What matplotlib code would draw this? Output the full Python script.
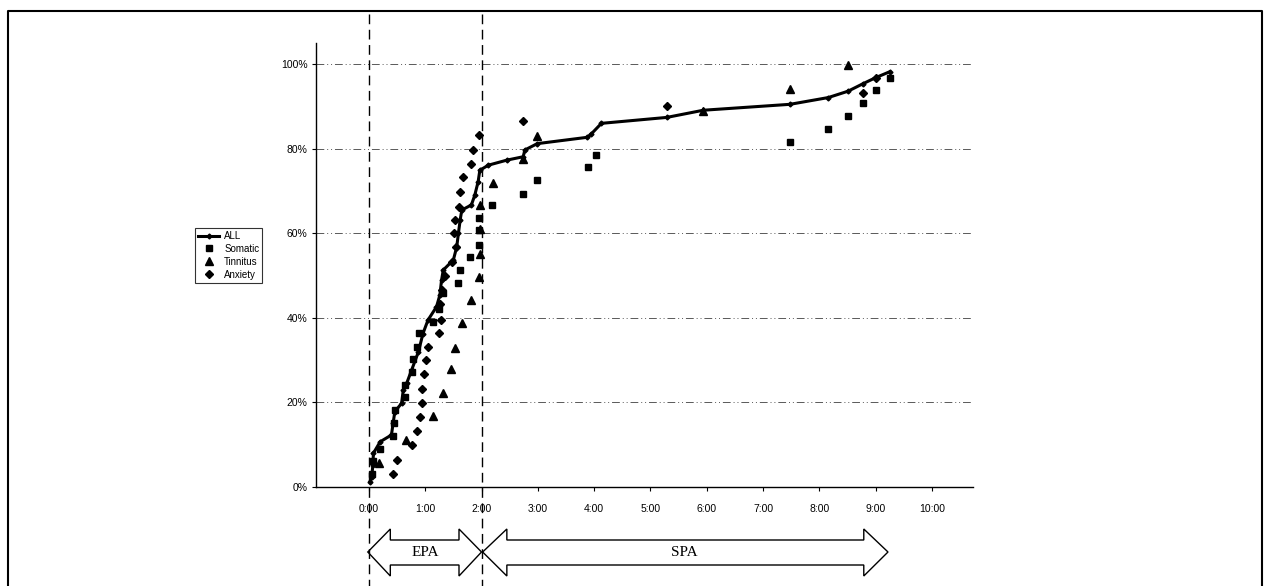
import matplotlib
matplotlib.use("Agg")
import matplotlib.pyplot as plt
from matplotlib.lines import Line2D
from matplotlib.patches import Polygon
from matplotlib import transforms

plt.rcParams['font.family'] = ['Liberation Sans', 'DejaVu Sans']

# time in hours, cumulative share of patients in %
all_t = [0.02, 0.05, 0.07, 0.08, 0.20, 0.40, 0.43, 0.46, 0.58, 0.61, 0.67, 0.76, 0.88, 0.96,
         1.05, 1.20, 1.26, 1.29, 1.32, 1.50, 1.56, 1.59, 1.62, 1.65, 1.82, 1.88, 1.94, 1.97,
         2.12, 2.45, 2.74, 2.77, 2.99, 3.88, 3.95, 4.13, 5.29, 5.94, 7.48, 8.16, 8.51, 8.78,
         9.00, 9.25]
all_p = [1.3, 2.4, 5.2, 8.0, 10.7, 12.3, 15.1, 17.8, 19.8, 22.9, 24.5, 27.7, 32.0, 36.3,
         39.5, 42.6, 45.4, 48.9, 51.3, 53.7, 56.8, 60.0, 63.1, 65.5, 66.7, 69.0, 72.2, 74.9,
         76.1, 77.3, 78.1, 79.7, 81.2, 82.7, 83.5, 86.0, 87.4, 89.1, 90.5, 92.1, 93.6, 95.4,
         96.8, 98.2]

somatic_t = [0.05, 0.07, 0.20, 0.43, 0.45, 0.47, 0.64, 0.64, 0.76, 0.79, 0.85, 0.89, 1.14,
             1.25, 1.32, 1.58, 1.62, 1.79, 1.96, 1.96, 1.96, 2.18, 2.74, 2.98, 3.90, 4.04,
             7.48, 8.16, 8.51, 8.78, 9.00, 9.25]
somatic_p = [3.0, 6.1, 9.1, 12.1, 15.2, 18.2, 21.2, 24.1, 27.3, 30.2, 33.0, 36.4, 39.1,
             42.2, 45.8, 48.2, 51.3, 54.4, 57.2, 60.8, 63.5, 66.7, 69.4, 72.7, 75.6, 78.6,
             81.6, 84.6, 87.7, 90.9, 93.9, 96.8]

tinnitus_t = [0.18, 0.66, 1.14, 1.32, 1.45, 1.53, 1.65, 1.81, 1.96, 1.97, 1.98, 1.98, 2.21,
              2.74, 2.98, 5.94, 7.48, 8.51]
tinnitus_p = [5.6, 11.1, 16.7, 22.2, 27.8, 32.8, 38.7, 44.2, 49.6, 55.2, 61.0, 66.6, 71.9,
              77.6, 83.0, 88.9, 94.2, 99.9]

anxiety_t = [0.43, 0.49, 0.76, 0.86, 0.91, 0.94, 0.94, 0.98, 1.01, 1.05, 1.25, 1.28, 1.27,
             1.29, 1.35, 1.48, 1.54, 1.52, 1.53, 1.60, 1.62, 1.67, 1.81, 1.85, 1.96, 2.73,
             5.29, 8.78, 9.00]
anxiety_p = [3.1, 6.5, 9.9, 13.3, 16.6, 19.8, 23.1, 26.7, 30.0, 33.0, 36.5, 39.5, 43.3,
             46.7, 49.9, 53.3, 56.7, 60.0, 63.1, 66.3, 69.8, 73.2, 76.5, 79.8, 83.2, 86.6,
             90.0, 93.2, 96.7]

hours = list(range(11))
pct_ticks = [0, 20, 40, 60, 80, 100]

W, H = 1269, 586
fig = plt.figure(figsize=(W / 100, H / 100), dpi=100)
ax = fig.add_axes([316 / W, 1 - 487 / H, (973 - 316) / W, (487 - 43) / H])

ax.plot(somatic_t, somatic_p, 's', color='black', ms=5, label='Somatic', zorder=3)
ax.plot(tinnitus_t, tinnitus_p, '^', color='black', ms=5.5, label='Tinnitus', zorder=3)
ax.plot(anxiety_t, anxiety_p, 'D', color='black', ms=4.1, label='Anxiety', zorder=3)
ax.plot(all_t, all_p, '-D', color='black', lw=2.2, ms=2.5, label='ALL', zorder=4)

ax.set_xlim(-0.94, 10.73)
ax.set_ylim(0, 105)
ax.set_xticks(hours)
ax.set_xticklabels([f"{h}:00" for h in hours])
ax.set_yticks(pct_ticks)
ax.set_yticklabels([f"{p}%" for p in pct_ticks])
ax.tick_params(axis='both', labelsize=7.5, length=3, width=0.8, color='black')
ax.tick_params(axis='x', pad=9)
ax.tick_params(axis='y', pad=3)

for s in ['top', 'right']:
    ax.spines[s].set_visible(False)
for s in ['left', 'bottom']:
    ax.spines[s].set_linewidth(1.0)

ax.yaxis.grid(True, color='0.35', lw=0.7, linestyle=(0, (8, 3, 1, 3, 1, 3)))
ax.set_axisbelow(True)

# legend box on the left
h, l = ax.get_legend_handles_labels()
order = [3, 0, 1, 2]
leg = fig.legend([h[i] for i in order], [l[i] for i in order], loc='upper left',
                 bbox_to_anchor=(195 / W, 1 - 228 / H), fontsize=7, frameon=True,
                 fancybox=False, edgecolor='black', handlelength=2.2, borderpad=0.3,
                 labelspacing=0.3, handletextpad=0.5, borderaxespad=0)
leg.get_frame().set_linewidth(0.8)

# x in hours, y in figure fraction
trans = transforms.blended_transform_factory(ax.transData, fig.transFigure)

# dashed phase borders at 0:00 and 2:00
for xv in [0, 2]:
    fig.add_artist(Line2D([xv, xv], [1 - 14 / H, 0], transform=trans, color='black',
                          lw=1.0, linestyle=(0, (7, 4))))

# double arrows EPA / SPA
yc = 1 - 552 / H
head_top, head_bot = 1 - 529 / H, 1 - 576 / H
shaft_top, shaft_bot = 1 - 540 / H, 1 - 565 / H


def double_arrow(x0, x1, hl):
    pts = [(x0, yc), (x0 + hl, head_top), (x0 + hl, shaft_top), (x1 - hl, shaft_top),
           (x1 - hl, head_top), (x1, yc), (x1 - hl, head_bot), (x1 - hl, shaft_bot),
           (x0 + hl, shaft_bot), (x0 + hl, head_bot)]
    fig.add_artist(Polygon(pts, closed=True, transform=trans, facecolor='white',
                           edgecolor='black', lw=1.0))


double_arrow(-0.02, 2.0, 0.40)
double_arrow(2.02, 9.22, 0.43)
fig.text(1.0, yc, 'EPA', transform=trans, ha='center', va='center', fontsize=11,
         family=['Liberation Serif', 'DejaVu Serif'])
fig.text(5.6, yc, 'SPA', transform=trans, ha='center', va='center', fontsize=11,
         family=['Liberation Serif', 'DejaVu Serif'])

# outer frame (bottom edge is cut off)
fig.add_artist(Line2D([8 / W, 8 / W, 1262 / W, 1262 / W], [0, 1 - 11 / H, 1 - 11 / H, 0],
                      transform=fig.transFigure, color='black', lw=1.5))

fig.savefig('out.png', dpi=100)
